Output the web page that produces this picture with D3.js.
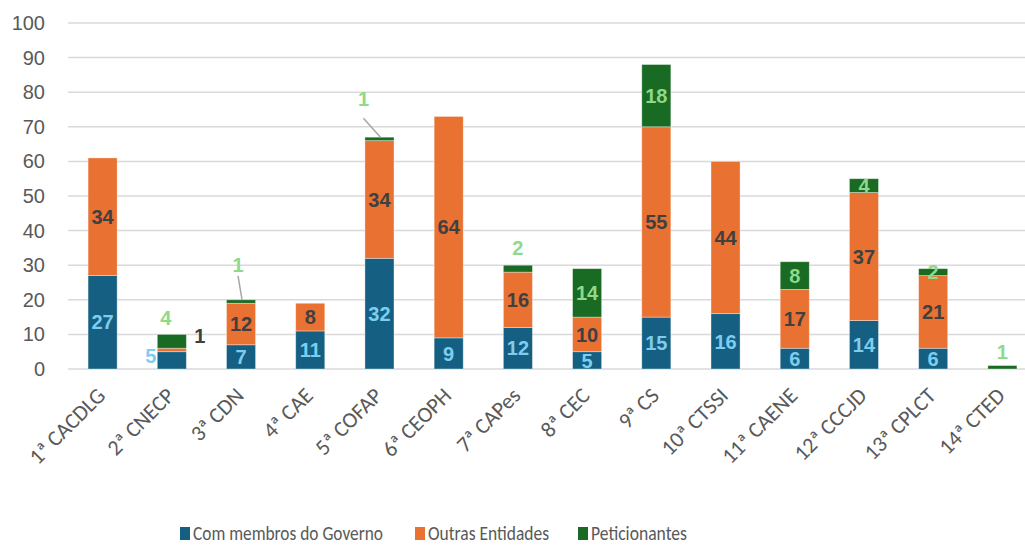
<!DOCTYPE html>
<html>
<head>
<meta charset="utf-8">
<script src="https://cdn.jsdelivr.net/npm/d3@7"></script>
<style>
  body { margin: 0; background: #fff; }
  svg text { font-family: Carlito, "Liberation Sans Narrow", "Noto Sans", sans-serif; }
</style>
</head>
<body>
<div id="chart"></div>
<script>
// categories and the three stacked series
var comissoes = ["1ª CACDLG", "2ª CNECP", "3ª CDN", "4ª CAE", "5ª COFAP", "6ª CEOPH", "7ª CAPes",
                 "8ª CEC", "9ª CS", "10ª CTSSI", "11ª CAENE", "12ª CCCJD", "13ª CPLCT", "14ª CTED"];
var governo   = [27, 5, 7, 11, 32, 9, 12, 5, 15, 16, 6, 14, 6, 0];
var entidades = [34, 1, 12, 8, 34, 64, 16, 10, 55, 44, 17, 37, 21, 0];
var peticion  = [0, 4, 1, 0, 1, 0, 2, 14, 18, 0, 8, 4, 2, 1];
var yTicks    = [0, 10, 20, 30, 40, 50, 60, 70, 80, 90, 100];
var seriesNames = ["Com membros do Governo", "Outras Entidades", "Peticionantes"];

var svgWidth = 1025, svgHeight = 545;
var margin = { top: 23, left: 68, bottom: 176 };

var colors = ["#156082", "#E97132", "#196B24"];
var labelColors = ["#7FCDEE", "#404040", "#8ED98A"];

// rows for d3.stack
var rows = comissoes.map(function(c, i) {
  return { name: c, gov: governo[i], out: entidades[i], pet: peticion[i] };
});
var keys = ["gov", "out", "pet"];
var stacked = d3.stack().keys(keys)(rows);

var svg = d3.select("#chart").append("svg")
  .attr("width", svgWidth)
  .attr("height", svgHeight);

var x = d3.scaleBand()
  .domain(comissoes)
  .range([margin.left, 1037])
  .paddingInner(0.58)
  .paddingOuter(0.29);

var y = d3.scaleLinear()
  .domain([0, 100])
  .range([svgHeight - margin.bottom, margin.top]);

// gridlines
svg.append("g")
  .selectAll("line")
  .data(yTicks)
  .enter().append("line")
  .attr("x1", margin.left)
  .attr("x2", svgWidth)
  .attr("y1", function(d) { return y(d); })
  .attr("y2", function(d) { return y(d); })
  .attr("stroke", "#D9D9D9")
  .attr("stroke-width", 1.5);

// y axis labels
var yAxis = d3.axisLeft(y).tickValues(yTicks).tickSize(0).tickPadding(0);
var yG = svg.append("g")
  .attr("transform", "translate(45,0)")
  .call(yAxis);
yG.select(".domain").remove();
yG.selectAll("text")
  .attr("fill", "#595959")
  .style("font-family", "'Liberation Sans', Arial, sans-serif")
  .style("font-size", "20px");

// bars
var layers = svg.selectAll(".layer")
  .data(stacked)
  .enter().append("g")
  .attr("class", "layer")
  .attr("fill", function(d, i) { return colors[i]; });

layers.selectAll("rect")
  .data(function(d) { return d; })
  .enter().append("rect")
  .filter(function(d) { return d[1] - d[0] > 0; })
  .attr("x", function(d) { return x(d.data.name); })
  .attr("width", x.bandwidth())
  .attr("y", function(d) { return y(d[1]); })
  .attr("height", function(d) { return y(d[0]) - y(d[1]); })
  .attr("stroke", "#ffffff")
  .attr("stroke-opacity", 0.45)
  .attr("stroke-width", 0.8);

// x axis labels (rotated)
svg.append("g")
  .selectAll("text")
  .data(comissoes)
  .enter().append("text")
  .attr("transform", function(d) {
    return "translate(" + (x(d) + x.bandwidth() / 2 + 4) + ",397) rotate(-45)";
  })
  .attr("text-anchor", "end")
  .attr("fill", "#595959")
  .style("font-size", "22px")
  .text(function(d) { return d; });

// data labels; a few are moved off the bar like in the original
// key = series index - category index
var offsets = {
  "0-1": { dx: -21, dy: -5 },              // CNECP governo "5" to the left
  "1-1": { dx: 28, dy: -14 },              // CNECP outras "1" to the right
  "2-1": { dx: -6, dy: -17, above: true },
  "2-2": { dx: -3, dy: -35, above: true, leader: 11 },
  "2-4": { dx: -16, dy: -38, above: true, leader: 19 },
  "2-6": { dy: -17, above: true },
  "2-13": { dy: -13.5, above: true }
};

var labelG = svg.append("g");
stacked.forEach(function(layer, s) {
  layer.forEach(function(d, i) {
    var v = d[1] - d[0];
    if (v <= 0) return;
    var cx = x(d.data.name) + x.bandwidth() / 2;
    var cy = (y(d[0]) + y(d[1])) / 2;
    var o = offsets[s + "-" + i] || {};
    var lx = cx + (o.dx || 0);
    var ly = o.above ? y(d[1]) + o.dy : cy + (o.dy || 0);
    if (o.leader) {
      labelG.append("line")
        .attr("x1", lx).attr("y1", ly + o.leader)
        .attr("x2", cx + 1).attr("y2", y(d[1]))
        .attr("stroke", "#A6A6A6")
        .attr("stroke-width", 1.5);
    }
    labelG.append("text")
      .attr("x", lx)
      .attr("y", ly)
      .attr("dy", "0.36em")
      .attr("text-anchor", "middle")
      .attr("fill", labelColors[s])
      .style("font-family", "'Liberation Sans', Arial, sans-serif")
      .style("font-weight", "bold")
      .style("font-size", "20px")
      .text(v);
  });
});

// legend
var legendX = [180, 415, 578];
var legendW = [190, 121, 96];
var legend = svg.append("g");
seriesNames.forEach(function(n, i) {
  legend.append("rect")
    .attr("x", legendX[i])
    .attr("y", 527)
    .attr("width", 10)
    .attr("height", 13)
    .attr("fill", colors[i]);
  legend.append("text")
    .attr("x", legendX[i] + 13)
    .attr("y", 533)
    .attr("dy", "0.35em")
    .attr("fill", "#595959")
    .attr("textLength", legendW[i])
    .attr("lengthAdjust", "spacingAndGlyphs")
    .style("font-size", "20px")
    .text(n);
});
</script>
</body>
</html>
